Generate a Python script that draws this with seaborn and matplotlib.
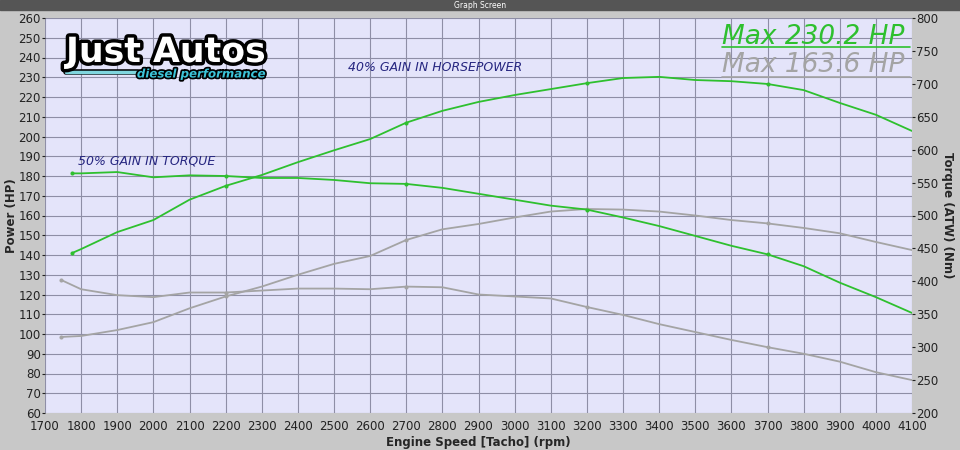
import pandas as pd
import matplotlib.pyplot as plt
import matplotlib.patheffects as pe
import seaborn as sns

# dyno readings (rpm / HP / Nm)
rpm_new = [1775, 1800, 1900, 2000, 2100, 2200, 2300, 2400, 2500, 2600, 2700, 2800, 2900,
           3000, 3100, 3200, 3300, 3400, 3500, 3600, 3700, 3800, 3900, 4000, 4100]
hp_new = [141, 143, 151.6, 157.7, 168, 175, 180.5, 187, 193, 198.7, 207, 213, 217.5,
          221, 224, 227, 229.6, 230.2, 228.6, 228, 226.6, 223.5, 217, 211, 202.8]
nm_new = [564, 564, 566, 558, 561, 560, 557, 557, 554, 549, 548, 542, 533,
          524, 515, 509, 497, 484, 469, 454, 441, 423, 398, 376, 352]

rpm_old = [1745, 1800, 1900, 2000, 2100, 2200, 2300, 2400, 2500, 2600, 2700, 2800, 2900,
           3000, 3100, 3200, 3300, 3400, 3500, 3600, 3700, 3800, 3900, 4000, 4100]
hp_old = [98.5, 99, 102, 106, 113, 119, 124, 130, 135.5, 139.5, 147.6, 153, 155.7,
          159, 162, 163.3, 163, 162, 160, 157.7, 156, 153.7, 151, 146.6, 142.5]
nm_old = [402, 388, 379, 376, 383, 383, 386, 389, 389, 388, 392, 391, 380,
          377, 374, 361, 349, 335, 323, 311, 300, 290, 278, 262, 250]

new_df = pd.DataFrame({'rpm': rpm_new, 'hp': hp_new, 'nm': nm_new})
old_df = pd.DataFrame({'rpm': rpm_old, 'hp': hp_old, 'nm': nm_old})

green = '#2EC02E'
grey = '#A4A4A4'
bg = '#E4E4FA'
frame = '#C8C8C8'
gridc = '#8E8EA6'
navy = '#262680'

sns.set_style('white')
plt.rcParams['font.family'] = ['DejaVu Sans']

fig = plt.figure(figsize=(9.6, 4.5), dpi=100, facecolor=frame)
ax = fig.add_axes([45 / 960, 1 - 413 / 450, (912 - 45) / 960, (413 - 18) / 450])
ax.set_facecolor(bg)
ax2 = ax.twinx()

# title bar of the window
fig.patches.append(plt.Rectangle((0, 1 - 10 / 450), 1, 10 / 450, transform=fig.transFigure,
                                 color='#555555', zorder=0))
fig.text(0.5, 1 - 5 / 450, 'Graph Screen', ha='center', va='center', fontsize=5.5,
         color='white')

sns.lineplot(data=old_df, x='rpm', y='hp', ax=ax, color=grey, lw=1.3)
sns.lineplot(data=new_df, x='rpm', y='hp', ax=ax, color=green, lw=1.3)
sns.lineplot(data=old_df, x='rpm', y='nm', ax=ax2, color=grey, lw=1.3)
sns.lineplot(data=new_df, x='rpm', y='nm', ax=ax2, color=green, lw=1.3)
for a in (ax, ax2):
    for ln in a.lines:
        c = ln.get_color()
        ln.set_marker('o')
        ln.set_markersize(2.2)
        ln.set_markerfacecolor(c)
        ln.set_markeredgecolor(c)
        ln.set_markevery(5)

ax.set_xlim(1700, 4100)
ax.set_ylim(60, 260)
ax2.set_ylim(200, 800)
ax.set_xticks(range(1700, 4101, 100))
ax.set_yticks(range(60, 261, 10))
ax2.set_yticks(range(200, 801, 50))
ax.grid(True, color=gridc, lw=0.8)
ax.set_axisbelow(True)

for a in (ax, ax2):
    a.tick_params(labelsize=8.5, colors='#222222', length=2, pad=1)
    for s in a.spines.values():
        s.set_visible(False)
ax.tick_params(axis='x', pad=3)

ax.set_xlabel('Engine Speed [Tacho] (rpm)', fontsize=8.5, fontweight='bold', labelpad=2)
ax.set_ylabel('Power (HP)', fontsize=8.5, fontweight='bold', labelpad=0)
ax2.set_ylabel('Torque (ATW) (Nm)', fontsize=8.5, fontweight='bold', rotation=-90, labelpad=11)

ax.text(1790, 186, '50% GAIN IN TORQUE', fontsize=9, style='italic', color=navy)
ax.text(2540, 233, '40% GAIN IN HORSEPOWER', fontsize=9, style='italic', color=navy)

# max labels
ax.text(4080, 250.5, 'Max 230.2 HP', ha='right', va='center', fontsize=19, style='italic', color=green)
ax.text(4080, 236, 'Max 163.6 HP', ha='right', va='center', fontsize=19, style='italic', color=grey)
ax.plot([3575, 4095], [245.3, 245.3], color=green, lw=1.2)
ax.plot([3575, 4095], [230.3, 230.3], color=grey, lw=1.2)

# logo
outline = [pe.withStroke(linewidth=5, foreground='black')]
fig.text(66 / 960, 1 - 52 / 450, 'Just Autos', fontsize=25, fontweight='bold', color='white',
         va='center', ha='left', path_effects=outline)
fig.text(265 / 960, 1 - 74 / 450, 'diesel performance', fontsize=8.5, fontweight='bold',
         style='italic', color='#3CC4D8', va='center', ha='right',
         path_effects=[pe.withStroke(linewidth=2.5, foreground='black')])
fig.lines.append(plt.Line2D([66 / 960, 138 / 960], [1 - 72 / 450, 1 - 72 / 450],
                            transform=fig.transFigure, color='#7FD6DE', lw=2.5,
                            path_effects=[pe.withStroke(linewidth=4, foreground='black')]))

plt.savefig('out.png', dpi=100, facecolor=fig.get_facecolor())
